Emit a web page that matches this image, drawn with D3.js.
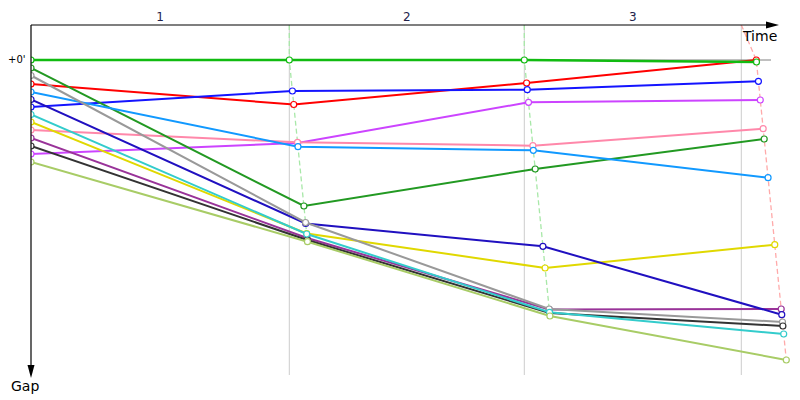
<!DOCTYPE html>
<html><head><meta charset="utf-8">
<script src="https://cdn.jsdelivr.net/npm/d3@7"></script>
<style>body{margin:0;background:#fff}svg{display:block}</style>
</head><body>
<svg id="c" width="800" height="400"></svg>
<script>
// Series listed in finishing order (also drawing order)
const colors = ["#ff0000","#11bb11","#1414ff","#cc44ff","#ff88aa","#229922","#1199ff","#e0d800","#993399","#2010c0","#999999","#333333","#33cccc","#a8cc66"];
// start stagger (seconds-equivalent on gap axis)
const startGap = [24, 0, 47, 94, 70, 8, 32, 62, 78, 39.5, 15.5, 86, 54.5, 102];
const gapCp1  = [44.5, 0, 31, 83, 82.3, 146, 86.7, 173.5, 178, 163.5, 162.5, 180, 174, 181.7];
const gapCp2  = [23, 0, 29.7, 42.3, 85.7, 109, 90.3, 208, 249.5, 186.3, 249, 253, 252.3, 256];
const gapFin  = [0, 2, 21.3, 40, 68.7, 79, 117.7, 184.7, 249, 254.7, 262, 266, 274, 300];
const gridTimes = [2583, 4933, 7103];          // checkpoint lines
const leaderTimes = [0, 2583, 4933, 7253];     // reference time of each checkpoint
const lapLabels = ["1", "2", "3"];
const dashColors = ["#a8e8a8", "#a8e8a8", "#ffaaaa"];

const svg = d3.select("#c");
const x = d3.scaleLinear().domain([0, 7470]).range([31, 778]);
const y = d3.scaleLinear().domain([0, 315]).range([60, 375]);
const topY = y(-35), bottomY = y(317);

svg.append("defs").append("clipPath").attr("id","clip")
  .append("rect").attr("x", x(0)).attr("y", topY).attr("width", 760).attr("height", 360);

// grid lines
svg.append("g").selectAll("line").data(gridTimes).join("line")
  .attr("x1", d => x(d)).attr("x2", d => x(d))
  .attr("y1", topY).attr("y2", y(315))
  .attr("stroke", "#cccccc").attr("stroke-width", 1);

// zero line
svg.append("line").attr("x1", x(0)).attr("x2", x(7400)).attr("y1", y(0)).attr("y2", y(0))
  .attr("stroke", "#808080").attr("stroke-width", 1);

const gapsByCp = [startGap, gapCp1, gapCp2, gapFin];
const series = colors.map((c, i) => ({
  color: c,
  pts: gapsByCp.map((g, k) => ({ t: k === 0 ? 0 : leaderTimes[k] + g[i], g: g[i] }))
}));

const plot = svg.append("g").attr("clip-path", "url(#clip)");

// dashed checkpoint connectors
[1,2,3].forEach((k, j) => {
  const pts = series.map(s => s.pts[k]).sort((a,b) => a.g - b.g);
  const path = [{t: gridTimes[j], g: -35}].concat(pts);
  plot.append("path").datum(path)
    .attr("d", d3.line().x(d => x(d.t)).y(d => y(d.g)))
    .attr("fill", "none").attr("stroke", dashColors[j]).attr("stroke-width", 1.3)
    .attr("stroke-dasharray", "5,3");
});

const line = d3.line().x(d => x(d.t)).y(d => y(d.g));
series.forEach((s, i) => {
  const g = plot.append("g");
  g.append("path").datum(s.pts).attr("d", line)
    .attr("fill", "none").attr("stroke", s.color).attr("stroke-width", i === 1 ? 2.6 : 2);
  g.selectAll("circle").data(s.pts).join("circle")
    .attr("cx", d => x(d.t)).attr("cy", d => y(d.g)).attr("r", 3)
    .attr("fill", "#fff").attr("stroke", s.color).attr("stroke-width", 1.2);
});

// axes
svg.append("line").attr("x1", x(0)).attr("x2", 772).attr("y1", topY).attr("y2", topY)
  .attr("stroke", "#000").attr("stroke-width", 1.2);
svg.append("path").attr("d", `M${779},${topY} L${766},${topY-3.5} L${766},${topY+3.5} Z`).attr("fill", "#000");
svg.append("line").attr("x1", x(0)).attr("x2", x(0)).attr("y1", topY).attr("y2", 372)
  .attr("stroke", "#000").attr("stroke-width", 1.2);
svg.append("path").attr("d", `M${x(0)},${378} L${x(0)-3.5},${365} L${x(0)+3.5},${365} Z`).attr("fill", "#000");

// lap labels
svg.append("g").selectAll("text").data(lapLabels).join("text")
  .attr("x", (d, i) => x(((i === 0 ? 0 : gridTimes[i-1]) + gridTimes[i]) / 2))
  .attr("y", 21).attr("text-anchor", "middle")
  .attr("font-family", "DejaVu Sans, sans-serif").attr("font-size", 12).attr("fill", "#22224a")
  .text(d => d);

svg.append("text").attr("x", 8).attr("y", 63).attr("font-family", "DejaVu Sans, sans-serif")
  .attr("font-size", 10).attr("fill", "#000").text("+0'");
svg.append("text").attr("x", 743).attr("y", 41).attr("font-family", "DejaVu Sans, sans-serif")
  .attr("font-size", 14).attr("fill", "#000").text("Time");
svg.append("text").attr("x", 11).attr("y", 391).attr("font-family", "DejaVu Sans, sans-serif")
  .attr("font-size", 14).attr("fill", "#000").text("Gap");
</script>
</body></html>
